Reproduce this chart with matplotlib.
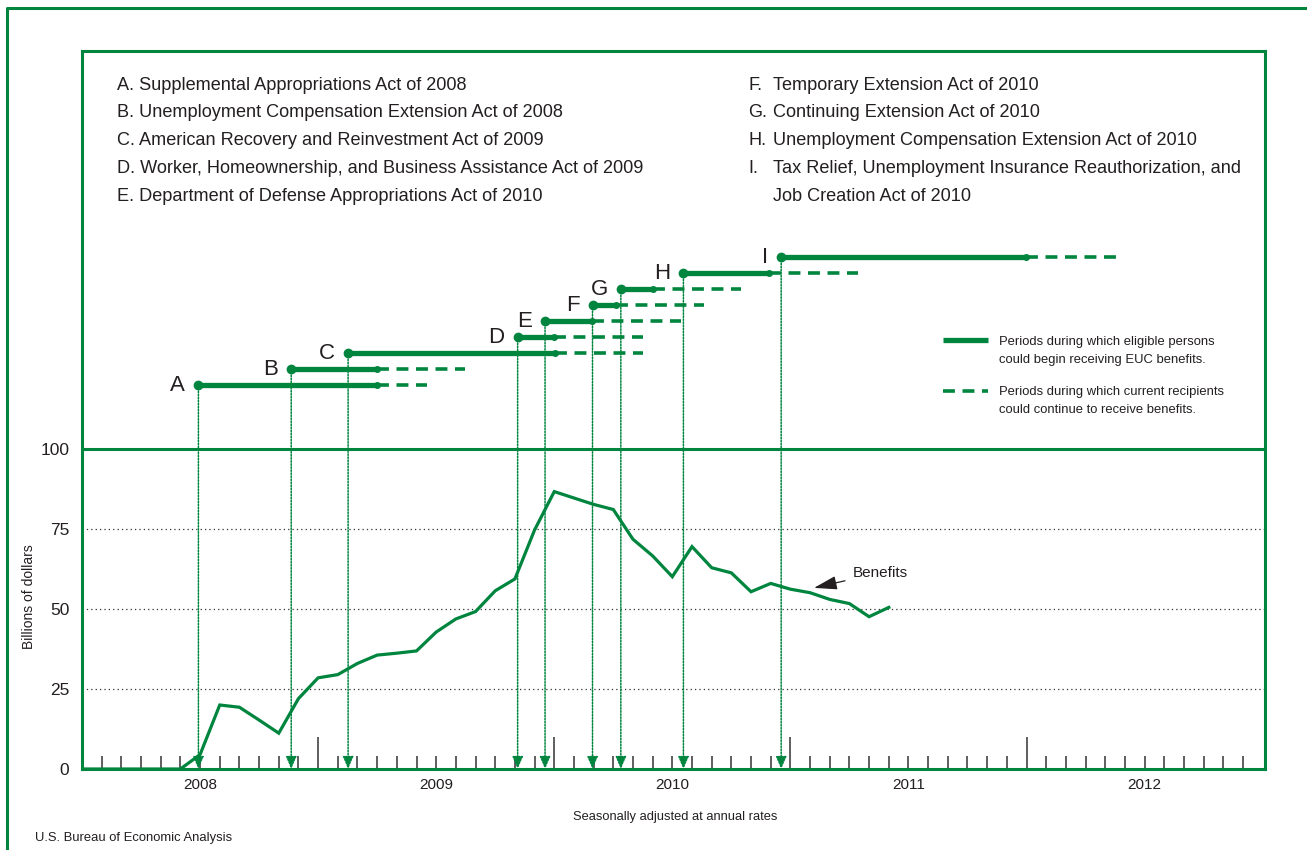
import numpy as np
import matplotlib
matplotlib.use("Agg")
import matplotlib.pyplot as plt
from matplotlib.lines import Line2D

plt.rcParams['font.family'] = ['Liberation Sans', 'DejaVu Sans']

GREEN = '#00853F'
TEXT = '#231F20'

# monthly benefits, Jan 2008 .. Jun 2011 (billions of dollars, SAAR)
benefit_months = np.arange(42)
benefits = [0, 0, 0, 0, 0, 0, 4.5, 20, 19.3, 15.3, 11.2, 22,
            28.5, 29.5, 33, 35.6, 36.2, 36.9, 42.8, 46.9, 49.2, 55.7, 59.4, 74.7,
            86.7, 84.7, 82.7, 81.1, 71.8, 66.6, 60.1, 69.5, 62.9, 61.3, 55.4, 58,
            56.2, 55.1, 53, 51.7, 47.6, 50.5]

# legislation: letter, enactment, end of new claims, end of continued benefits
act_letters = ['A', 'B', 'C', 'D', 'E', 'F', 'G', 'H', 'I']
act_start = [2008.493, 2008.886, 2009.127, 2009.845, 2009.961, 2010.162, 2010.282, 2010.547, 2010.961]
act_claims_end = [2009.249, 2009.249, 2010.003, 2010.0, 2010.160, 2010.263, 2010.419, 2010.911, 2011.996]
act_phaseout_end = [2009.461, 2009.621, 2010.376, 2010.376, 2010.538, 2010.635, 2010.792, 2011.286, 2012.385]
act_level = [120, 125, 130, 135, 140, 145, 150, 155, 160]

acts_left = ['A. Supplemental Appropriations Act of 2008',
             'B. Unemployment Compensation Extension Act of 2008',
             'C. American Recovery and Reinvestment Act of 2009',
             'D. Worker, Homeownership, and Business Assistance Act of 2009',
             'E. Department of Defense Appropriations Act of 2010']
acts_right_letters = ['F.', 'G.', 'H.', 'I.', '']
acts_right = ['Temporary Extension Act of 2010',
              'Continuing Extension Act of 2010',
              'Unemployment Compensation Extension Act of 2010',
              'Tax Relief, Unemployment Insurance Reauthorization, and',
              'Job Creation Act of 2010']

years = [2008, 2009, 2010, 2011, 2012]
W, H = 1307, 850


def fx(px):
    return px / W


def fy(py):
    return 1 - py / H


fig = plt.figure(figsize=(W / 100, H / 100), dpi=100)
ax = fig.add_axes([fx(82), fy(769), fx(1265) - fx(82), fy(51) - fy(769)])

x_benefits = 2008 + benefit_months / 12
ax.plot(x_benefits, benefits, color=GREEN, lw=2.3, zorder=4, solid_joinstyle='miter')

ax.set_xlim(2008.011, 2013.01)
ax.set_ylim(0, 224.4)

# gridlines and the 100 line
for v in [25, 50, 75]:
    ax.axhline(v, color='#333333', lw=0.9, linestyle=(0, (1, 2.5)), zorder=1)
ax.axhline(100, color=GREEN, lw=2.2, zorder=3)

# legislation periods
for letter, s, ce, pe, lev in zip(act_letters, act_start, act_claims_end, act_phaseout_end, act_level):
    ax.plot([ce, pe], [lev, lev], color=GREEN, lw=2.6, dashes=(3.3, 2.1), zorder=3)
    ax.plot([s, ce], [lev, lev], color=GREEN, lw=3.8, solid_capstyle='butt', zorder=4)
    ax.plot([s], [lev], marker='o', ms=6, color=GREEN, zorder=5)
    ax.plot([ce], [lev], marker='o', ms=4, color=GREEN, zorder=5)
    ax.annotate('', xy=(s, 0), xytext=(s, lev),
                arrowprops=dict(arrowstyle='-|>,head_length=0.75,head_width=0.32', mutation_scale=10,
                                color=GREEN, lw=1.1, linestyle=(0, (1, 1)), shrinkA=0, shrinkB=0),
                zorder=2)
    ax.annotate(letter, (s, lev), xytext=(-9.5, 0), textcoords='offset points',
                ha='right', va='center', fontsize=16, color=TEXT)

# axes styling
for sp in ax.spines.values():
    sp.set_color(GREEN)
    sp.set_linewidth(2.2)
ax.set_yticks([0, 25, 50, 75, 100])
ax.tick_params(axis='y', length=0, pad=9, labelsize=12.5, labelcolor=TEXT)
ax.set_xticks(years[1:])
ax.set_xticklabels([])
ax.set_xticks(2008 + np.arange(60) / 12, minor=True)
ax.tick_params(axis='x', which='major', direction='in', length=23, width=1.1, color='#333333')
ax.tick_params(axis='x', which='minor', direction='in', length=9.4, width=1.1, color='#333333')
for yr in years:
    ax.text(yr + 0.5, -0.0225, str(yr), transform=ax.get_xaxis_transform(),
            ha='center', va='center', fontsize=11, color=TEXT)

ax.set_ylabel('Billions of dollars', fontsize=10, color=TEXT)
ax.yaxis.set_label_coords(-46 / 1183, 0.2396)

ax.annotate('Benefits', xy=(2011.1, 56.6), xytext=(2011.266, 61.4),
            ha='left', va='center', fontsize=11, color=TEXT,
            arrowprops=dict(arrowstyle='-|>,head_length=0.95,head_width=0.28', mutation_scale=15,
                            color=TEXT, lw=0.9, shrinkA=4, shrinkB=0))

# act list
for i, t in enumerate(acts_left):
    fig.text(fx(117), fy(85 + 27.8 * i), t, ha='left', va='center', fontsize=13.1, color=TEXT)
for i, (l, t) in enumerate(zip(acts_right_letters, acts_right)):
    fig.text(fx(748), fy(85 + 27.8 * i), l, ha='left', va='center', fontsize=13.1, color=TEXT)
    fig.text(fx(773), fy(85 + 27.8 * i), t, ha='left', va='center', fontsize=13.1, color=TEXT)

# legend
fig.add_artist(Line2D([fx(943), fx(988)], [fy(340), fy(340)], color=GREEN, lw=3.8, solid_capstyle='butt'))
fig.add_artist(Line2D([fx(943), fx(988)], [fy(391), fy(391)], color=GREEN, lw=2.6, dashes=(3.3, 2.1)))
fig.text(fx(999), fy(351), 'Periods during which eligible persons\ncould begin receiving EUC benefits.',
         ha='left', va='center', fontsize=9.4, color=TEXT, linespacing=1.6)
fig.text(fx(999), fy(401), 'Periods during which current recipients\ncould continue to receive benefits.',
         ha='left', va='center', fontsize=9.4, color=TEXT, linespacing=1.6)

fig.text(fx(675), fy(817), 'Seasonally adjusted at annual rates', ha='center', va='center',
         fontsize=9.3, color=TEXT)
fig.text(fx(35), fy(838), 'U.S. Bureau of Economic Analysis', ha='left', va='center',
         fontsize=9.4, color=TEXT)

# outer frame (left and top edges)
fig.add_artist(Line2D([fx(7), fx(7), 1.01], [-0.01, fy(7.5), fy(7.5)], color=GREEN, lw=2.2))

fig.savefig('out.png', dpi=100)
